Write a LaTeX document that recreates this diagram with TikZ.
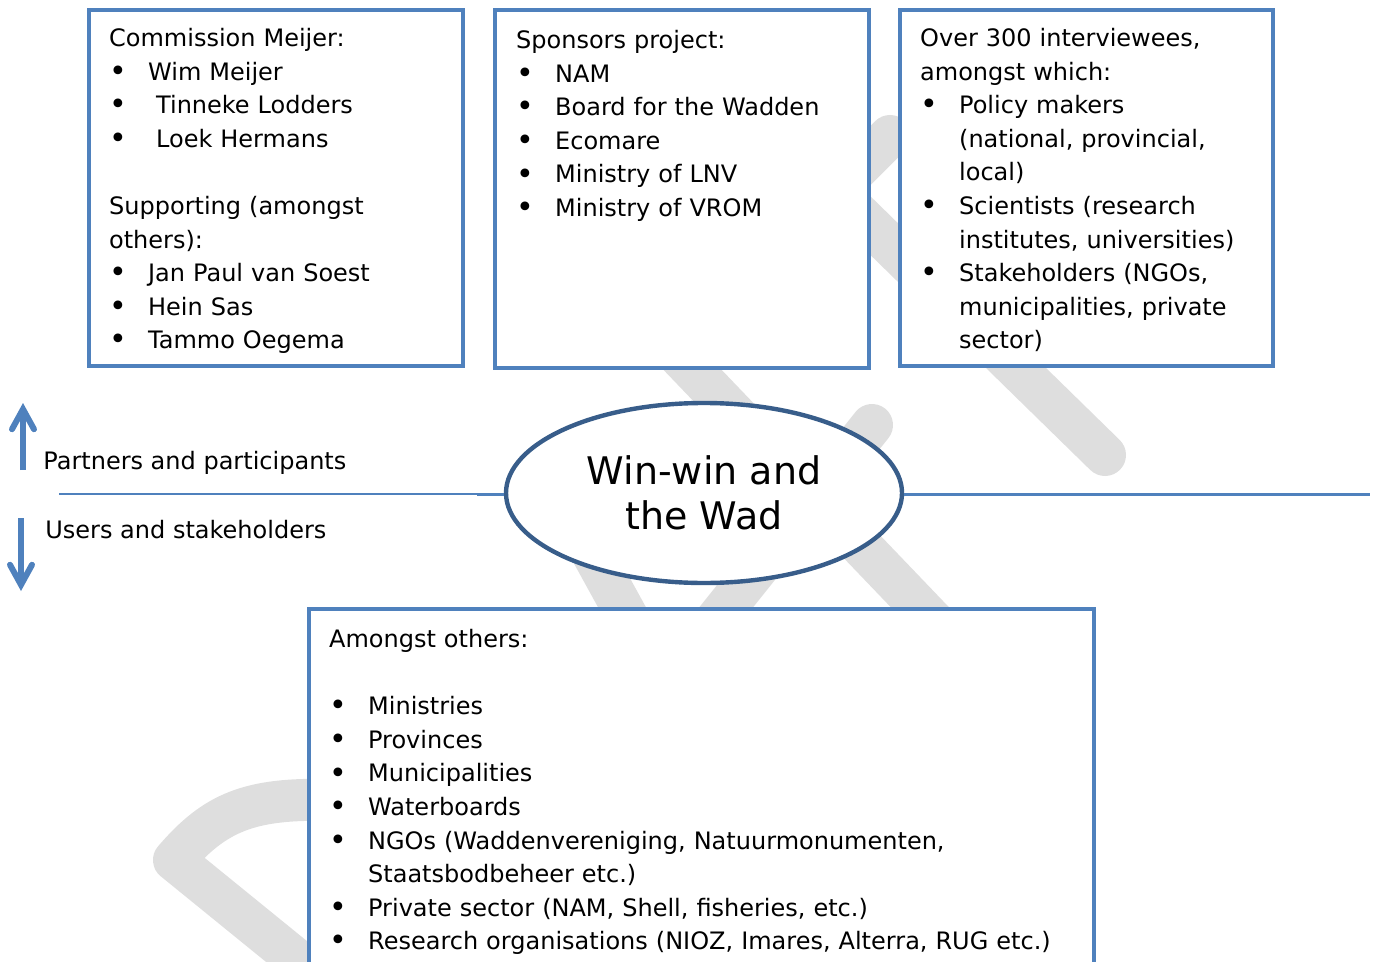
\documentclass[tikz,border=0pt]{standalone}
\usepackage{fontspec}
\setmainfont{DejaVu Sans}
\usetikzlibrary{arrows.meta,positioning,shapes.geometric}

\definecolor{boxblue}{RGB}{79,129,189}
\definecolor{ellblue}{RGB}{56,93,138}
\definecolor{wmgray}{RGB}{222,222,222}

\newcommand{\bul}{\makebox[19.5pt][l]{\raisebox{-0.6pt}{\fontsize{15}{15}\selectfont\textbullet}}}
\newcommand{\cont}{\hspace*{19.5pt}}

\begin{document}
\begin{tikzpicture}[x=0.5pt,y=-0.5pt,line cap=round,line join=round,
  box/.style={draw=boxblue,line width=2.25pt,fill=white,inner sep=0pt,line join=miter},
  txt/.style={inner sep=0pt,text width=190pt,align=left,font=\fontsize{12}{16.78}\selectfont},
  side/.style={inner sep=0pt,anchor=base west,font=\fontsize{12}{16.78}\selectfont},
  ell/.style={ellipse,draw=ellblue,line width=2.2pt,fill=white,inner sep=0pt,
    minimum width=198pt,minimum height=90pt,align=center,font=\fontsize{19}{22.5}\selectfont},
  band/.style={draw=wmgray,line width=21pt},
  arrowline/.style={draw=boxblue,line width=3pt,line cap=butt}]
  \useasboundingbox (0,0) rectangle (1374,962);

  % Watermark strokes (mostly hidden by the boxes)
  \draw[band] (340,995) -- (174,860) .. controls (215,812) and (250,798) .. (330,800);
  \draw[band] (890,136) -- (835,191) -- (1105,455);
  \draw[band] (640,315) -- (980,670);
  \draw[band] (872,425) -- (700,640);
  \draw[band] (585,540) -- (640,640);

  % Dividing line
  \coordinate (lineL) at (59,494);
  \coordinate (lineM) at (477,494);
  \coordinate (lineR) at (1370,494);
  \draw[boxblue,line width=0.6pt,line cap=butt] (lineL) -- (lineM);

  % Ellipse
  \node[ell] (winwin) at (704,493) {Win-win and\\the Wad};
  \draw[boxblue,line width=1.5pt,line cap=butt] (lineM) -- (lineM -| winwin.west);
  \draw[boxblue,line width=1.5pt,line cap=butt] (lineR -| winwin.east) -- (lineR);

  % Boxes
  \node[box,minimum width=187pt,minimum height=178pt] (commission) at (276,188) {};
  \node[box,minimum width=187pt,minimum height=179pt] (sponsors) at (682,189) {};
  \node[box,minimum width=186.5pt,minimum height=178pt] (interviewees) at (1086.5,188) {};
  \node[box,minimum width=392.5pt,minimum height=200pt] (users) at (701.5,809) {};

  % Box texts
  \node[txt,below right=9.25pt and 11pt of commission.north west] (commissiontxt) {%
    \rule{0pt}{10pt}Commission Meijer:\\
    \bul Wim Meijer\\
    \bul\ Tinneke Lodders\\
    \bul\ Loek Hermans\\[16.78pt]
    Supporting (amongst\\
    others):\\
    \bul Jan Paul van Soest\\
    \bul Hein Sas\\
    \bul Tammo Oegema};
  \node[txt,below right=10.25pt and 11.5pt of sponsors.north west] (sponsorstxt) {%
    \rule{0pt}{10pt}Sponsors project:\\
    \bul NAM\\
    \bul Board for the Wadden\\
    \bul Ecomare\\
    \bul Ministry of LNV\\
    \bul Ministry of VROM};
  \node[txt,below right=9.25pt and 11pt of interviewees.north west] (intervieweestxt) {%
    \rule{0pt}{10pt}Over 300 interviewees,\\
    amongst which:\\
    \bul Policy makers\\
    \cont(national, provincial,\\
    \cont local)\\
    \bul Scientists (research\\
    \cont institutes, universities)\\
    \bul Stakeholders (NGOs,\\
    \cont municipalities, private\\
    \cont sector)};
  \node[txt,text width=380pt,below right=10.25pt and 11pt of users.north west] (userstxt) {%
    \rule{0pt}{10pt}Amongst others:\\[16.78pt]
    \bul Ministries\\
    \bul Provinces\\
    \bul Municipalities\\
    \bul Waterboards\\
    \bul NGOs (Waddenvereniging, Natuurmonumenten,\\
    \cont Staatsbodbeheer etc.)\\
    \bul Private sector (NAM, Shell, fisheries, etc.)\\
    \bul Research organisations (NIOZ, Imares, Alterra, RUG etc.)};

  % Side labels and arrows
  \node[side] (partners) at (43,469) {Partners and participants};
  \node[side] (stakeholders) at (45,538) {Users and stakeholders};
  \coordinate (upfoot) at (23,470);
  \coordinate (uptip) at (23,403);
  \coordinate (downfoot) at (21,518);
  \coordinate (downtip) at (21,591);
  \draw[arrowline,-{Straight Barb[length=10pt,width=11pt,line cap=round]}] (upfoot) -- (uptip);
  \draw[arrowline,-{Straight Barb[length=10pt,width=11pt,line cap=round]}] (downfoot) -- (downtip);
\end{tikzpicture}
\end{document}
